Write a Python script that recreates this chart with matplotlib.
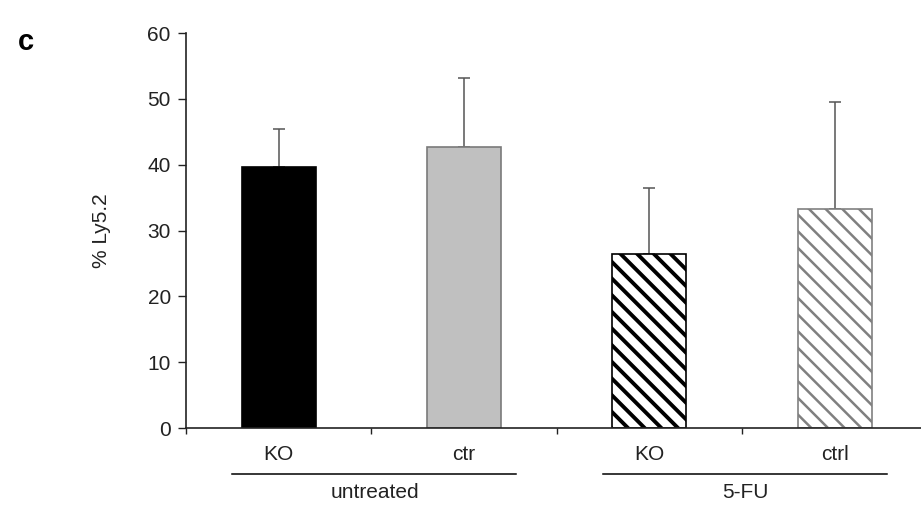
import matplotlib.pyplot as plt
import matplotlib.transforms as mtransforms
import numpy as np

plt.rcParams['font.family'] = ['Liberation Sans', 'DejaVu Sans']

# data
conditions = ["KO", "ctr", "KO", "ctrl"]
groups = ["untreated", "5-FU"]
values = [39.6, 42.7, 26.4, 33.3]
errors = [5.8, 10.5, 10.0, 16.2]

colors = ["black", "#c0c0c0", "white", "white"]
edges = ["black", "#7a7a7a", "black", "#808080"]
hatches = [None, None, "\\\\", "\\\\"]
hatch_lw = [1.0, 1.0, 2.8, 1.8]

fig = plt.figure(figsize=(9.21, 5.09), dpi=100)
ax = fig.add_axes([0.202, 0.159, 0.805, 0.776])

x = np.arange(len(values))
for i in range(len(values)):
    plt.rcParams['hatch.linewidth'] = hatch_lw[i]
    ax.bar(x[i], values[i], width=0.4, color=colors[i], edgecolor=edges[i],
           hatch=hatches[i], linewidth=1.2, zorder=2)

ax.errorbar(x, values, yerr=[np.zeros(len(errors)), errors], fmt='none',
            ecolor='#555555', elinewidth=1.1, capsize=4, capthick=1.1, zorder=1)

ax.set_ylim(0, 60)
ax.set_xlim(-0.5, 3.5)
ax.set_yticks(np.arange(0, 61, 10))
ax.tick_params(axis='y', direction='out', length=6, width=1, labelsize=15,
               colors='#222222', pad=5)
ax.set_xticks(np.arange(-0.5, 4.0, 1.0))
ax.set_xticklabels([])
ax.tick_params(axis='x', direction='out', length=4, width=1, colors='#222222')
for s in ['top', 'right']:
    ax.spines[s].set_visible(False)
for s in ['left', 'bottom']:
    ax.spines[s].set_linewidth(1.2)
    ax.spines[s].set_color('#222222')

ax.set_ylabel("% Ly5.2", fontsize=15, color='#222222', labelpad=26)

trans = mtransforms.blended_transform_factory(ax.transData, ax.transAxes)
for i, lab in enumerate(conditions):
    ax.text(x[i], -0.068, lab, transform=trans, ha='center', va='center',
            fontsize=15, color='#222222')
for g, lab in enumerate(groups):
    x0 = 2 * g - 0.25
    x1 = 2 * g + 1.28
    ax.plot([x0, x1], [-0.116, -0.116], transform=trans, color='black',
            linewidth=1.1, clip_on=False)
    ax.text(2 * g + 0.52, -0.162, lab, transform=trans, ha='center',
            va='center', fontsize=15, color='#222222')

fig.text(0.019, 0.918, "c", fontsize=21, fontweight='bold', ha='left',
         va='center')

plt.savefig("out.png", dpi=100)
